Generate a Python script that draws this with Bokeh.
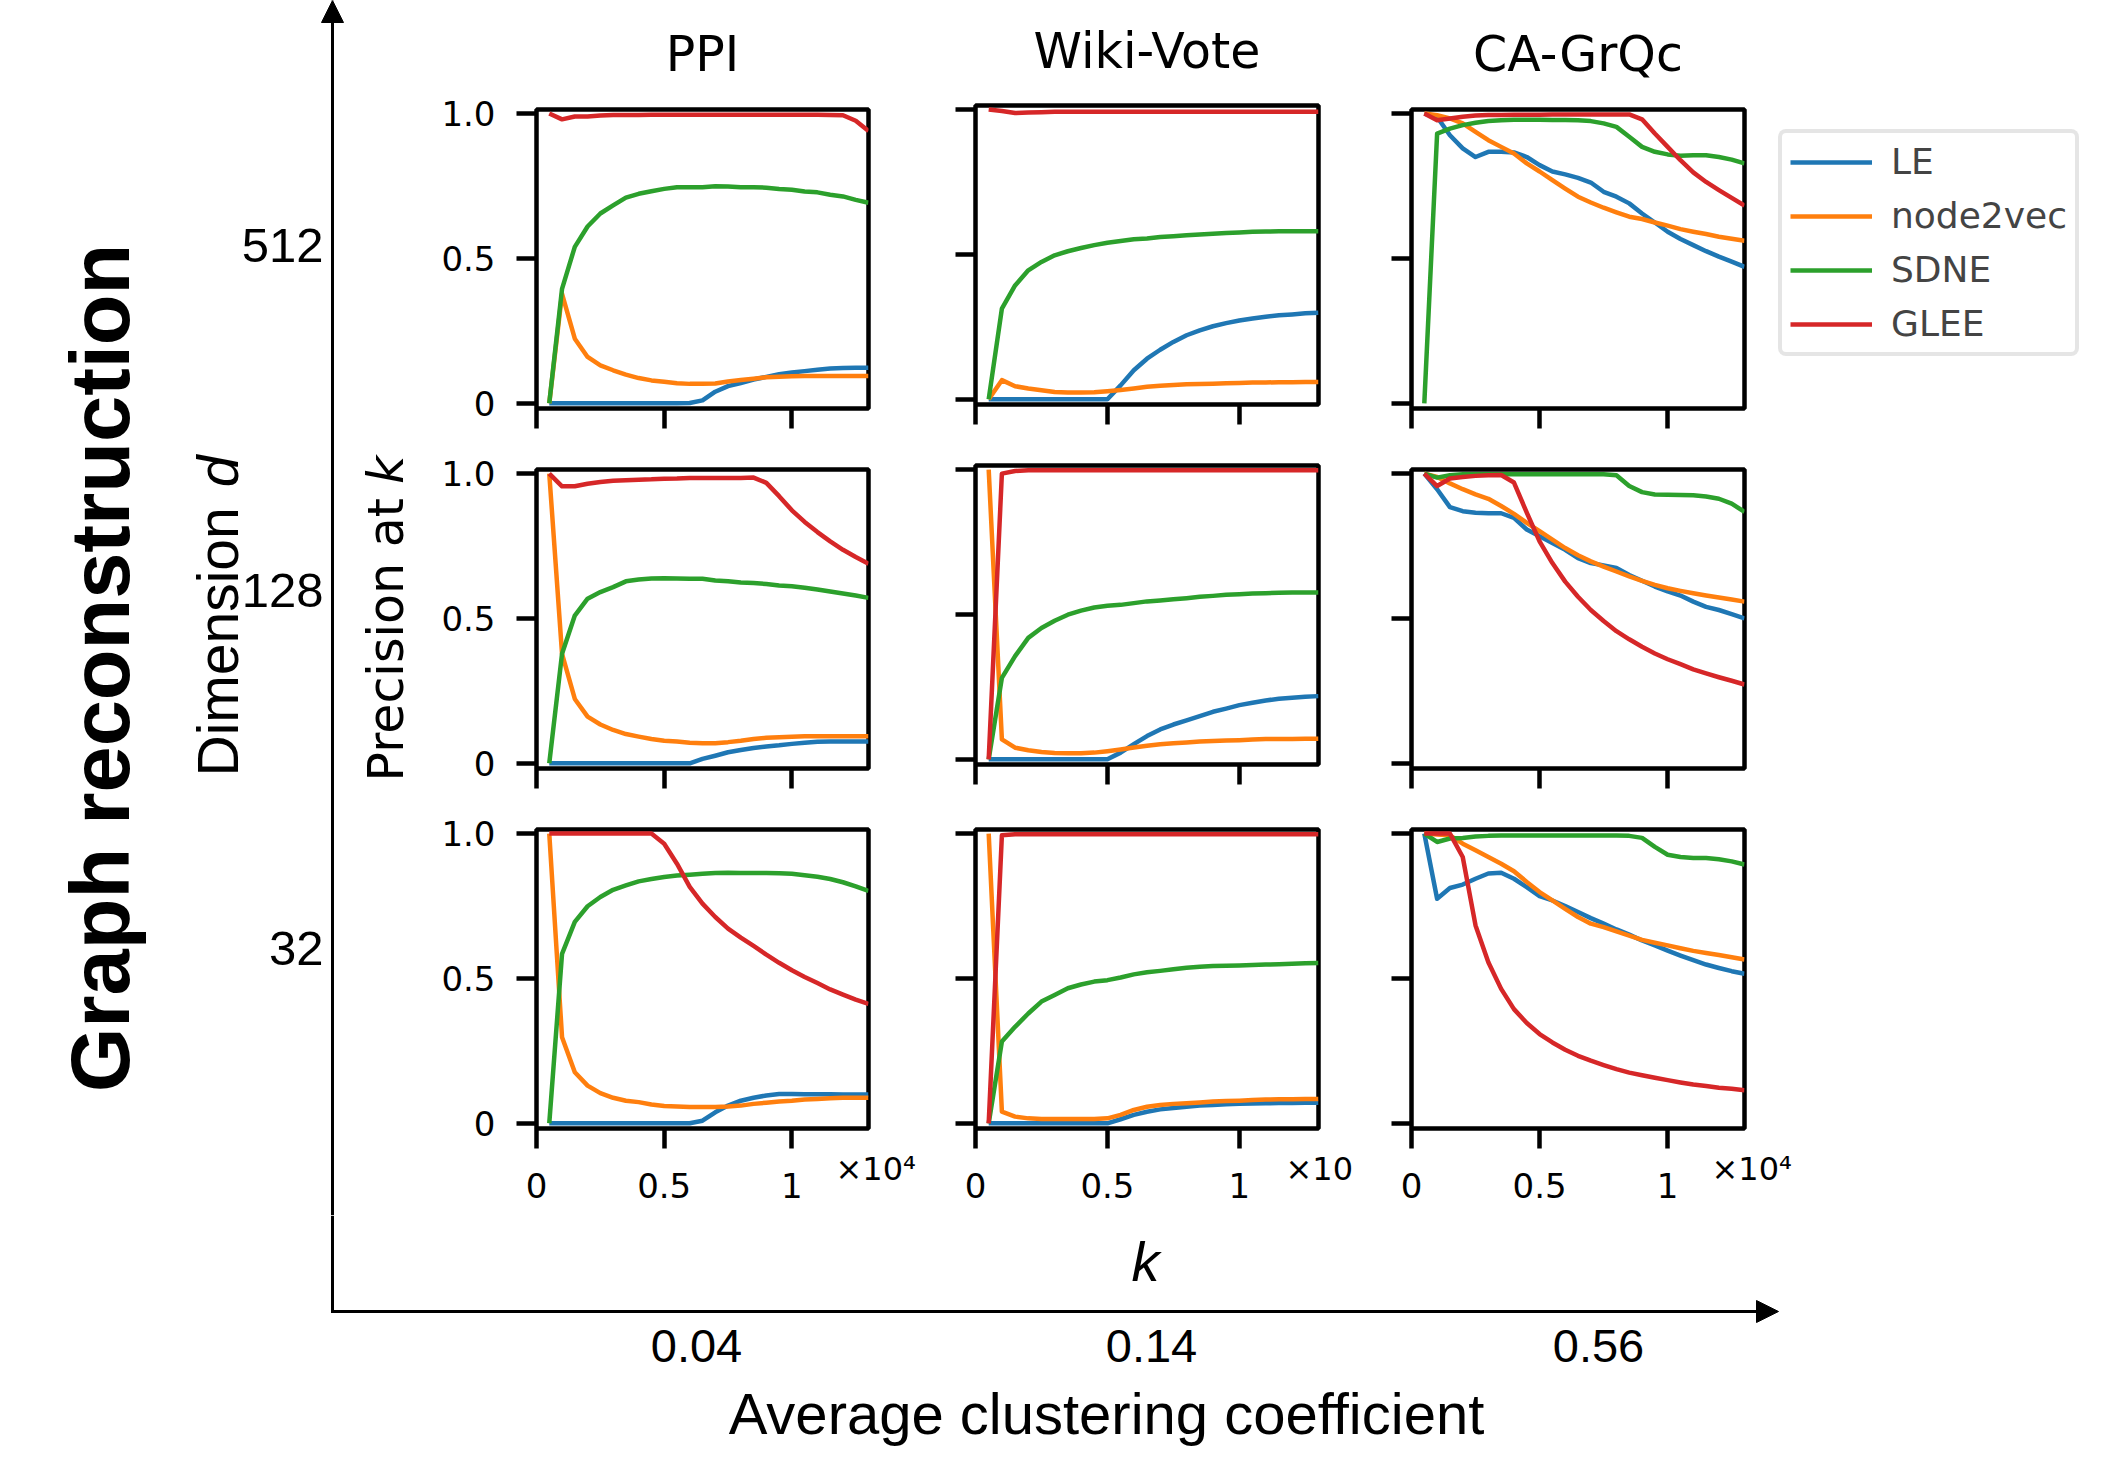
import math
from bokeh.plotting import figure
from bokeh.models import Range1d, FixedTicker, Label, Legend, LegendItem, Arrow, NormalHead, Spacer
from bokeh.layouts import row, column
from bokeh.embed import file_html
from bokeh.resources import INLINE

# ---------------- data ----------------
K = [500, 1000, 1500, 2000, 2500, 3000, 3500, 4000, 4500, 5000, 5500, 6000, 6500,
     7000, 7500, 8000, 8500, 9000, 9500, 10000, 10500, 11000, 11500, 12000, 12500, 13000]

METHODS = ["LE", "node2vec", "SDNE", "GLEE"]
COLORS = ["#1f77b4", "#ff7f0e", "#2ca02c", "#d62728"]
DATASETS = ["PPI", "Wiki-Vote", "CA-GrQc"]
DIMENSIONS = ["512", "128", "32"]
CLUSTERING = ["0.04", "0.14", "0.56"]
K_MAX = 13000
X_TICKS = [0, 5000, 10000]
X_TICK_LABELS = ["0", "0.5", "1"]
Y_TICKS = [0, 0.5, 1.0]
Y_TICK_LABELS = ["0", "0.5", "1.0"]
X_OFFSET_TEXT = ["×10⁴", "×10", "×10⁴"]

# PPI, d = 512
PPI_512_LE = [0, 0, 0, 0, 0, 0, 0, 0, 0, 0, 0, 0.001, 0.01, 0.04, 0.059, 0.07, 0.082, 0.091, 0.1, 0.106, 0.111, 0.116, 0.12, 0.122, 0.123, 0.123]
PPI_512_N2V = [0, 0.378, 0.223, 0.16, 0.131, 0.114, 0.099, 0.087, 0.079, 0.074, 0.069, 0.067, 0.067, 0.068, 0.075, 0.08, 0.085, 0.09, 0.092, 0.093, 0.094, 0.094, 0.094, 0.094, 0.094, 0.094]
PPI_512_SDNE = [0, 0.395, 0.54, 0.61, 0.655, 0.683, 0.71, 0.723, 0.732, 0.74, 0.746, 0.746, 0.746, 0.749, 0.748, 0.746, 0.746, 0.744, 0.74, 0.737, 0.731, 0.728, 0.72, 0.714, 0.702, 0.692]
PPI_512_GLEE = [1.0, 0.98, 0.99, 0.99, 0.993, 0.995, 0.995, 0.995, 0.996, 0.996, 0.996, 0.996, 0.996, 0.996, 0.996, 0.996, 0.996, 0.996, 0.996, 0.996, 0.996, 0.996, 0.995, 0.994, 0.975, 0.94]

# Wiki-Vote, d = 512
WIKI_512_LE = [0, 0, 0, 0, 0, 0, 0, 0, 0, 0, 0.048, 0.1, 0.14, 0.171, 0.198, 0.221, 0.238, 0.252, 0.263, 0.272, 0.279, 0.285, 0.29, 0.293, 0.297, 0.299]
WIKI_512_N2V = [0, 0.066, 0.045, 0.037, 0.031, 0.025, 0.023, 0.023, 0.024, 0.028, 0.032, 0.037, 0.043, 0.047, 0.049, 0.052, 0.053, 0.054, 0.055, 0.056, 0.058, 0.058, 0.059, 0.059, 0.06, 0.06]
WIKI_512_SDNE = [0, 0.313, 0.393, 0.445, 0.474, 0.497, 0.511, 0.522, 0.532, 0.54, 0.546, 0.552, 0.555, 0.56, 0.563, 0.566, 0.569, 0.571, 0.574, 0.576, 0.578, 0.579, 0.58, 0.58, 0.58, 0.58]
WIKI_512_GLEE = [1.0, 0.995, 0.988, 0.99, 0.991, 0.992, 0.992, 0.992, 0.992, 0.992, 0.992, 0.992, 0.992, 0.992, 0.992, 0.992, 0.992, 0.992, 0.992, 0.992, 0.992, 0.992, 0.992, 0.992, 0.992, 0.992]

# CA-GrQc, d = 512
CA_512_LE = [1.0, 0.988, 0.925, 0.88, 0.85, 0.868, 0.868, 0.866, 0.85, 0.822, 0.8, 0.79, 0.778, 0.762, 0.73, 0.713, 0.69, 0.655, 0.624, 0.592, 0.567, 0.546, 0.525, 0.506, 0.489, 0.471]
CA_512_N2V = [1.0, 0.994, 0.983, 0.966, 0.937, 0.908, 0.885, 0.862, 0.828, 0.8, 0.77, 0.741, 0.713, 0.693, 0.675, 0.659, 0.644, 0.636, 0.624, 0.613, 0.601, 0.592, 0.584, 0.575, 0.568, 0.561]
CA_512_SDNE = [0, 0.931, 0.948, 0.96, 0.968, 0.974, 0.977, 0.979, 0.979, 0.979, 0.978, 0.978, 0.977, 0.974, 0.966, 0.954, 0.92, 0.885, 0.868, 0.859, 0.854, 0.856, 0.856, 0.85, 0.841, 0.828]
CA_512_GLEE = [1.0, 0.977, 0.983, 0.989, 0.993, 0.995, 0.995, 0.996, 0.996, 0.996, 0.997, 0.997, 0.997, 0.997, 0.997, 0.997, 0.997, 0.98, 0.931, 0.885, 0.839, 0.797, 0.764, 0.736, 0.709, 0.682]

# PPI, d = 128
PPI_128_LE = [0, 0, 0, 0, 0, 0, 0, 0, 0, 0, 0, 0, 0.015, 0.026, 0.038, 0.046, 0.053, 0.058, 0.062, 0.067, 0.071, 0.074, 0.075, 0.075, 0.075, 0.075]
PPI_128_N2V = [1.0, 0.378, 0.222, 0.161, 0.134, 0.115, 0.101, 0.092, 0.084, 0.078, 0.075, 0.071, 0.069, 0.069, 0.073, 0.078, 0.084, 0.088, 0.09, 0.092, 0.093, 0.093, 0.093, 0.093, 0.093, 0.093]
PPI_128_SDNE = [0, 0.378, 0.51, 0.568, 0.591, 0.608, 0.628, 0.634, 0.638, 0.639, 0.638, 0.637, 0.637, 0.631, 0.628, 0.624, 0.622, 0.619, 0.614, 0.611, 0.606, 0.6, 0.593, 0.586, 0.579, 0.571]
PPI_128_GLEE = [1.0, 0.956, 0.956, 0.965, 0.971, 0.975, 0.977, 0.979, 0.98, 0.982, 0.983, 0.985, 0.985, 0.985, 0.985, 0.985, 0.986, 0.968, 0.922, 0.873, 0.833, 0.798, 0.766, 0.737, 0.712, 0.689]

# Wiki-Vote, d = 128
WIKI_128_LE = [0, 0, 0, 0, 0, 0, 0, 0, 0, 0, 0.023, 0.052, 0.08, 0.103, 0.12, 0.134, 0.149, 0.164, 0.175, 0.187, 0.195, 0.203, 0.209, 0.212, 0.216, 0.218]
WIKI_128_N2V = [1.0, 0.069, 0.04, 0.031, 0.025, 0.022, 0.021, 0.021, 0.023, 0.028, 0.034, 0.041, 0.047, 0.052, 0.055, 0.058, 0.061, 0.063, 0.065, 0.066, 0.068, 0.07, 0.07, 0.07, 0.071, 0.071]
WIKI_128_SDNE = [0, 0.281, 0.356, 0.419, 0.453, 0.478, 0.499, 0.513, 0.524, 0.53, 0.533, 0.539, 0.545, 0.548, 0.552, 0.556, 0.561, 0.564, 0.568, 0.57, 0.572, 0.573, 0.575, 0.576, 0.576, 0.576]
WIKI_128_GLEE = [0, 0.986, 0.995, 0.998, 0.998, 0.998, 0.998, 0.998, 0.998, 0.998, 0.998, 0.998, 0.998, 0.998, 0.998, 0.998, 0.998, 0.998, 0.998, 0.998, 0.998, 0.998, 0.998, 0.998, 0.998, 0.998]

# CA-GrQc, d = 128
CA_128_LE = [1.0, 0.946, 0.884, 0.87, 0.865, 0.863, 0.863, 0.847, 0.807, 0.784, 0.76, 0.737, 0.708, 0.691, 0.683, 0.674, 0.65, 0.63, 0.61, 0.593, 0.579, 0.558, 0.54, 0.529, 0.515, 0.5]
CA_128_N2V = [1.0, 0.988, 0.966, 0.946, 0.928, 0.913, 0.888, 0.861, 0.83, 0.801, 0.772, 0.743, 0.718, 0.697, 0.679, 0.662, 0.645, 0.63, 0.616, 0.604, 0.595, 0.587, 0.579, 0.572, 0.565, 0.558]
CA_128_SDNE = [1.0, 0.986, 0.994, 0.998, 0.998, 0.998, 0.998, 0.998, 0.998, 0.998, 0.998, 0.998, 0.998, 0.998, 0.998, 0.994, 0.957, 0.936, 0.928, 0.927, 0.926, 0.925, 0.921, 0.913, 0.896, 0.868]
CA_128_GLEE = [1.0, 0.957, 0.983, 0.988, 0.992, 0.994, 0.995, 0.969, 0.865, 0.766, 0.691, 0.627, 0.575, 0.529, 0.491, 0.456, 0.428, 0.402, 0.379, 0.359, 0.342, 0.324, 0.31, 0.297, 0.285, 0.272]

# PPI, d = 32
PPI_32_LE = [0, 0, 0, 0, 0, 0, 0, 0, 0, 0, 0, 0, 0.009, 0.038, 0.061, 0.078, 0.088, 0.096, 0.101, 0.101, 0.1, 0.1, 0.1, 0.099, 0.099, 0.099]
PPI_32_N2V = [1.0, 0.297, 0.176, 0.13, 0.104, 0.088, 0.078, 0.073, 0.065, 0.06, 0.058, 0.056, 0.056, 0.056, 0.058, 0.061, 0.067, 0.071, 0.075, 0.078, 0.082, 0.084, 0.086, 0.088, 0.088, 0.088]
PPI_32_SDNE = [0, 0.585, 0.695, 0.749, 0.781, 0.806, 0.821, 0.835, 0.843, 0.85, 0.855, 0.858, 0.861, 0.864, 0.865, 0.864, 0.864, 0.864, 0.863, 0.861, 0.856, 0.851, 0.843, 0.832, 0.818, 0.802]
PPI_32_GLEE = [1.0, 1.0, 1.0, 1.0, 1.0, 1.0, 1.0, 1.0, 1.0, 0.965, 0.896, 0.816, 0.758, 0.712, 0.672, 0.641, 0.612, 0.582, 0.554, 0.528, 0.505, 0.484, 0.462, 0.444, 0.427, 0.412]

# Wiki-Vote, d = 32
WIKI_32_LE = [0, 0, 0, 0, 0, 0, 0, 0, 0, 0, 0.014, 0.029, 0.04, 0.048, 0.053, 0.057, 0.061, 0.063, 0.066, 0.067, 0.068, 0.069, 0.07, 0.07, 0.071, 0.071]
WIKI_32_N2V = [1.0, 0.04, 0.023, 0.017, 0.015, 0.015, 0.015, 0.015, 0.015, 0.017, 0.029, 0.046, 0.057, 0.063, 0.067, 0.069, 0.072, 0.075, 0.077, 0.078, 0.08, 0.082, 0.083, 0.083, 0.084, 0.084]
WIKI_32_SDNE = [0, 0.282, 0.333, 0.379, 0.42, 0.443, 0.466, 0.479, 0.489, 0.494, 0.503, 0.514, 0.521, 0.526, 0.532, 0.537, 0.54, 0.543, 0.544, 0.545, 0.546, 0.548, 0.549, 0.551, 0.552, 0.553]
WIKI_32_GLEE = [0, 0.994, 0.998, 0.998, 0.998, 0.998, 0.998, 0.998, 0.998, 0.998, 0.998, 0.998, 0.998, 0.998, 0.998, 0.998, 0.998, 0.998, 0.998, 0.998, 0.998, 0.998, 0.998, 0.998, 0.998, 0.998]

# CA-GrQc, d = 32
CA_32_LE = [1.0, 0.775, 0.812, 0.824, 0.844, 0.862, 0.865, 0.844, 0.815, 0.784, 0.769, 0.75, 0.729, 0.708, 0.689, 0.669, 0.651, 0.631, 0.614, 0.596, 0.579, 0.563, 0.548, 0.536, 0.525, 0.516]
CA_32_N2V = [1.0, 0.997, 0.994, 0.965, 0.942, 0.919, 0.896, 0.87, 0.833, 0.798, 0.769, 0.74, 0.712, 0.689, 0.677, 0.662, 0.648, 0.633, 0.623, 0.614, 0.604, 0.595, 0.588, 0.581, 0.573, 0.565]
CA_32_SDNE = [1.0, 0.971, 0.983, 0.985, 0.99, 0.992, 0.993, 0.993, 0.993, 0.993, 0.993, 0.993, 0.993, 0.993, 0.993, 0.993, 0.992, 0.985, 0.954, 0.927, 0.919, 0.916, 0.916, 0.911, 0.904, 0.893]
CA_32_GLEE = [1.0, 1.0, 1.0, 0.919, 0.683, 0.556, 0.464, 0.394, 0.346, 0.308, 0.279, 0.254, 0.233, 0.216, 0.201, 0.187, 0.175, 0.166, 0.157, 0.149, 0.141, 0.134, 0.129, 0.123, 0.119, 0.114]

PANEL_DATA = [
    [[PPI_512_LE, PPI_512_N2V, PPI_512_SDNE, PPI_512_GLEE],
     [WIKI_512_LE, WIKI_512_N2V, WIKI_512_SDNE, WIKI_512_GLEE],
     [CA_512_LE, CA_512_N2V, CA_512_SDNE, CA_512_GLEE]],
    [[PPI_128_LE, PPI_128_N2V, PPI_128_SDNE, PPI_128_GLEE],
     [WIKI_128_LE, WIKI_128_N2V, WIKI_128_SDNE, WIKI_128_GLEE],
     [CA_128_LE, CA_128_N2V, CA_128_SDNE, CA_128_GLEE]],
    [[PPI_32_LE, PPI_32_N2V, PPI_32_SDNE, PPI_32_GLEE],
     [WIKI_32_LE, WIKI_32_N2V, WIKI_32_SDNE, WIKI_32_GLEE],
     [CA_32_LE, CA_32_N2V, CA_32_SDNE, CA_32_GLEE]],
]

# ---------------- layout constants (pixels) ----------------
TICK_FONT = "DejaVu Sans"
OUTER_FONT = "Liberation Sans"
Y_MIN, Y_MAX = -0.018, 1.014
FH = 299
LEFT_W = 420
COL_W = [520, 430, 750]
COL_BL = [116, 35, 41]
COL_FW = [332, 343, 333]
ROW_H = [350, 360, 349]
ROW_BT = [19, 29, 29]
TITLE_H = 90
STRIP_H = 66
STRIP_FRAME_H = 41
STRIP_STANDOFF = -18
BOTTOM_H = 240
LINE_W = 4.5


def deco_fig(w, h, xr, yr):
    f = figure(width=w, height=h, x_range=Range1d(*xr), y_range=Range1d(*yr),
               min_border=0, x_axis_type=None, y_axis_type=None,
               toolbar_location=None, tools="", output_backend="svg")
    f.outline_line_color = None
    f.background_fill_color = "white"
    f.border_fill_color = "white"
    f.grid.visible = False
    return f


def lab(f, x, y, text, size, font=OUTER_FONT, align="center", angle=0.0, style="normal"):
    f.add_layout(Label(x=x, y=y, text=text, text_font=font, text_font_size=f"{size}px",
                       text_align=align, text_baseline="middle", angle=angle,
                       text_font_style=style, text_color="black"))


def make_panel(r, c, width):
    bt = ROW_BT[r]
    if c == 1 and r < 2:
        bt -= 4
    bl = COL_BL[c]
    fw = COL_FW[c]
    p = figure(width=width, height=ROW_H[r],
               x_range=Range1d(0, K_MAX), y_range=Range1d(Y_MIN, Y_MAX),
               min_border_left=bl, min_border_right=width - bl - fw,
               min_border_top=bt, min_border_bottom=ROW_H[r] - bt - FH,
               toolbar_location=None, tools="", output_backend="svg")
    p.background_fill_color = "white"
    p.border_fill_color = "white"
    p.outline_line_color = "black"
    p.outline_line_width = 4.5
    p.grid.visible = False
    for ax in (p.xaxis, p.yaxis):
        ax.axis_line_color = None
        ax.major_tick_line_width = 4.5
        ax.major_tick_line_color = "black"
        ax.major_tick_out = 20
        ax.major_tick_in = 0
        ax.minor_tick_line_color = None
        ax.major_label_text_font = TICK_FONT
        ax.major_label_text_color = "black"
    p.xaxis.ticker = FixedTicker(ticks=X_TICKS)
    p.xaxis.major_label_text_font_size = "1px"
    p.xaxis.major_label_text_color = None
    p.xaxis.major_label_standoff = 0
    p.yaxis.ticker = FixedTicker(ticks=Y_TICKS)
    p.yaxis.major_label_overrides = {t: s for t, s in zip(Y_TICKS, Y_TICK_LABELS)}
    if c == 0:
        p.yaxis.major_label_text_font_size = "34px"
        p.yaxis.major_label_standoff = 21
    else:
        p.yaxis.major_label_text_font_size = "1px"
        p.yaxis.major_label_text_color = None
        p.yaxis.major_label_standoff = 0

    for series, color in zip(PANEL_DATA[r][c], COLORS):
        p.line(K, series, line_color=color, line_width=LINE_W, line_join="round")
    return p


def make_tick_strip(c):
    # x-axis tick labels of the bottom row, on the same pixel scale as the panel above it
    w = COL_W[c]
    s = K_MAX / COL_FW[c]
    xr = Range1d(-COL_BL[c] * s, (w - COL_BL[c]) * s)
    f = figure(width=w, height=STRIP_H, x_range=xr, y_range=Range1d(0, STRIP_FRAME_H),
               min_border_left=0, min_border_right=0, min_border_top=0,
               min_border_bottom=STRIP_H - STRIP_FRAME_H, y_axis_type=None,
               toolbar_location=None, tools="", output_backend="svg")
    f.outline_line_color = None
    f.background_fill_color = "white"
    f.border_fill_color = "white"
    f.grid.visible = False
    ax = f.xaxis
    ax.ticker = FixedTicker(ticks=X_TICKS)
    ax.major_label_overrides = {t: s_ for t, s_ in zip(X_TICKS, X_TICK_LABELS)}
    ax.axis_line_color = None
    ax.major_tick_line_color = None
    ax.minor_tick_line_color = None
    ax.major_tick_out = 0
    ax.major_tick_in = 0
    ax.major_label_standoff = STRIP_STANDOFF
    ax.major_label_text_font = TICK_FONT
    ax.major_label_text_font_size = "34px"
    ax.major_label_text_color = "black"
    # text centre 19 px below the top of the strip, so the whole text box stays inside
    f.add_layout(Label(x=K_MAX, y=STRIP_FRAME_H - 19, x_offset=-33, text=X_OFFSET_TEXT[c],
                       text_font=TICK_FONT, text_font_size="32px", text_align="left",
                       text_baseline="middle", text_color="black"))
    return f


# ---------------- title strip (one for all columns) ----------------
GRID_W = sum(COL_W)
title_fig = deco_fig(GRID_W, TITLE_H, (LEFT_W, LEFT_W + GRID_W), (TITLE_H, 0))
title_x = [702, 1146.5, 1577.5]
title_y = [54, 51, 54]
for txt, xc, yc in zip(DATASETS, title_x, title_y):
    lab(title_fig, xc, yc, txt, 49, font=TICK_FONT)

# ---------------- panels ----------------
P13_W = 400
panels = [[None] * 3 for _ in range(3)]
for r in range(3):
    for c in range(3):
        w = COL_W[c]
        if c == 2 and r == 0:
            w = P13_W
        panels[r][c] = make_panel(r, c, w)
strips = [make_tick_strip(c) for c in range(3)]

# ---------------- legend figure ----------------
LEG_TOP_GAP = 31
col3_left = LEFT_W + COL_W[0] + COL_W[1]
leg_w = COL_W[2] - P13_W
leg_left = col3_left + P13_W
leg_h = ROW_H[0] - LEG_TOP_GAP
leg_fig = deco_fig(leg_w, leg_h, (leg_left, leg_left + leg_w), (leg_h, 0))
items = []
for name, color in zip(METHODS, COLORS):
    rr = leg_fig.line(x=[0], y=[float("nan")], line_color=color, line_width=LINE_W)
    items.append(LegendItem(label=name, renderers=[rr]))
legend = Legend(items=items, location="top_left", label_text_font=TICK_FONT,
                label_text_font_size="36px", glyph_width=82, glyph_height=40,
                label_height=40, label_standoff=19, spacing=13, padding=8, margin=8,
                border_line_color="#cccccc", border_line_width=4,
                background_fill_color="white", background_fill_alpha=1.0)
try:
    legend.border_radius = 8
except Exception:
    pass
leg_fig.add_layout(legend)
leg_col = column(Spacer(width=leg_w, height=LEG_TOP_GAP), leg_fig)

# ---------------- left decoration ----------------
TOP_H = TITLE_H + sum(ROW_H) + STRIP_H
left = deco_fig(LEFT_W, TOP_H, (0, LEFT_W), (TOP_H, 0))
left.add_layout(Arrow(end=NormalHead(size=22, fill_color="black", line_color="black", line_width=1),
                      x_start=332, y_start=TOP_H, x_end=332, y_end=0,
                      line_width=3, line_color="black"))
HALF_PI = math.pi / 2
lab(left, 100, 656, "Graph  reconstruction", 83, angle=HALF_PI, style="bold")
lab(left, 217, 776, "Dimension", 57, align="left", angle=HALF_PI)
lab(left, 217, 455, "d", 57, align="right", angle=HALF_PI, style="italic")
lab(left, 386, 781, "Precision at", 49, font=TICK_FONT, align="left", angle=HALF_PI)
lab(left, 386, 455, "k", 49, font=TICK_FONT, align="right", angle=HALF_PI, style="italic")
dim_y = [245, 590, 948]
for txt, yc in zip(DIMENSIONS, dim_y):
    lab(left, 323, yc, txt, 49, align="right")

# ---------------- bottom decoration ----------------
TOTAL_W = LEFT_W + GRID_W
bottom = deco_fig(TOTAL_W, BOTTOM_H, (0, TOTAL_W), (TOP_H + BOTTOM_H, TOP_H))
bottom.add_layout(Arrow(end=None, x_start=332, y_start=TOP_H, x_end=332, y_end=1312.5,
                        line_width=3, line_color="black"))
bottom.add_layout(Arrow(end=NormalHead(size=22, fill_color="black", line_color="black", line_width=1),
                        x_start=330.5, y_start=1311, x_end=1778, y_end=1311,
                        line_width=3, line_color="black"))
lab(bottom, 1145, 1261, "k", 56, style="italic")
clus_x = [696, 1151, 1598]
for txt, xc in zip(CLUSTERING, clus_x):
    lab(bottom, xc, 1345, txt, 47)
lab(bottom, 1106, 1413, "Average clustering coefficient", 58)

# ---------------- assemble ----------------
col1 = column(panels[0][0], panels[1][0], panels[2][0])
col2 = column(panels[0][1], panels[1][1], panels[2][1])
col3 = column(row(panels[0][2], leg_col), panels[1][2], panels[2][2])
tick_row = row(strips[0], strips[1], strips[2])
right_part = column(title_fig, row(col1, col2, col3), tick_row)
top = row(left, right_part)
page = column(top, bottom)

open("out.html", "w").write(file_html(page, INLINE, title="Graph reconstruction"))
